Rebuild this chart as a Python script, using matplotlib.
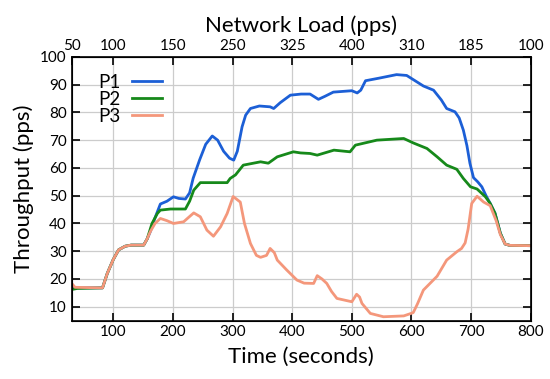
import numpy as np
import matplotlib
matplotlib.use("Agg")
import matplotlib.pyplot as plt

plt.rcParams['font.family'] = ['Lato', 'DejaVu Sans']

# ---- data ----
# shared start (all three flows identical up to ~157 s)
t_start = [30, 82, 90, 100, 109, 120, 130, 151, 157]
v_start = [16.8, 16.8, 22, 27, 30.5, 31.8, 32.2, 32.2, 34.5]

t_p1 = [162, 170, 179, 190, 201, 210, 221, 228, 234, 245, 255, 266, 275, 285,
        295, 302, 308, 316, 322, 330, 345, 363, 369, 380, 397, 415, 430, 444,
        455, 469, 500, 509, 515, 523, 545, 575, 592, 606, 620, 637, 650, 659,
        673, 680, 687, 693, 698, 704, 711, 718, 725, 732, 740, 749, 757, 765, 800]
v_p1 = [37, 42, 47, 48, 49.6, 49, 48.8, 51, 56.3, 63, 68.5, 71.5, 70, 66,
        63.5, 62.8, 66, 74.8, 79, 81.4, 82.3, 82, 81.4, 83.5, 86.2, 86.6, 86.6, 84.7,
        85.8, 87.3, 87.8, 87, 88, 91.4, 92.3, 93.6, 93.3, 91.4, 89.5, 88, 84.5, 81.4,
        80.2, 78, 73.6, 68, 61.7, 56.5, 55, 53.2, 50, 47.2, 43.7, 36.5, 32.6, 32.1, 32]

t_p2 = [165, 174, 179, 196, 221, 228, 235, 246, 291, 296, 305, 318, 347, 360,
        375, 402, 414, 430, 442, 470, 497, 506, 542, 587, 603, 626, 643, 659,
        676, 687, 699, 710, 724, 732, 740, 749, 757, 765, 800]
v_p2 = [40, 43.6, 44.8, 45.2, 45.2, 48, 52, 54.7, 54.7, 56.2, 57.5, 61, 62.2, 61.7,
        64, 65.8, 65.4, 65.2, 64.6, 66.4, 65.8, 68.2, 70, 70.6, 69, 67, 64, 61,
        59.5, 56.2, 53.2, 52.4, 49.6, 47.2, 43.7, 36.5, 32.6, 32.1, 32]

t_p3 = [162, 170, 179, 190, 201, 218, 228, 235, 246, 257, 268, 280, 291, 301,
        313, 320, 330, 340, 347, 357, 363, 370, 375, 391, 408, 420, 436, 442,
        450, 458, 466, 475, 500, 508, 513, 517, 531, 553, 587, 598, 603, 610,
        620, 643, 659, 676, 684, 690, 695, 701, 710, 721, 732, 742, 749, 757, 765, 800]
v_p3 = [37, 40, 41.8, 41, 40, 40.6, 42.5, 43.8, 42.4, 37.6, 35.4, 38.8, 43.6, 49.7,
        47.7, 40, 32.8, 28.5, 27.8, 28.5, 31, 29.5, 26.8, 23.2, 19.6, 18.5, 18.4, 21.2,
        20, 18.4, 15.5, 13, 11.8, 14.5, 13.5, 11.2, 7.6, 6.4, 6.7, 7.5, 7.9, 11,
        16, 21, 26.8, 29.8, 31, 33, 38, 47.2, 49.8, 47.7, 46.4, 41, 36, 32.6, 32.1, 32]

top_ticks = [30, 100, 200, 300, 400, 500, 600, 700, 800]
top_labels = ['50', '100', '150', '250', '325', '400', '310', '185', '100']

x1 = t_start + t_p1
y1 = v_start + v_p1
x2 = [30, 40] + t_start[1:] + t_p2
y2 = [16.2, 16.6] + v_start[1:] + v_p2
x3 = [30, 36] + t_start[1:] + t_p3
y3 = [18.5, 17.0] + v_start[1:] + v_p3

fig = plt.figure(figsize=(5.5, 3.79), dpi=100)
ax = fig.add_axes([0.130, 0.154, 0.835, 0.696])

ax.plot(x1, y1, color='#1c5fd6', lw=2.0, label='P1')
ax.plot(x2, y2, color='#16891a', lw=2.0, label='P2')
ax.plot(x3, y3, color='#f4977b', lw=2.0, label='P3')

ax.set_xlim(30, 800)
ax.set_ylim(5, 100)
ax.set_xticks(range(100, 801, 100))
ax.set_yticks(range(10, 101, 10))
ax.grid(True, color='#cccccc', lw=0.9)
ax.tick_params(direction='in', length=6, width=1.2, labelsize=11,
               right=True, top=False)
for s in ax.spines.values():
    s.set_linewidth(1.2)

ax2 = ax.twiny()
ax2.set_xlim(ax.get_xlim())
ax2.set_xticks(top_ticks)
ax2.set_xticklabels(top_labels)
ax2.tick_params(direction='in', length=6, width=1.2, labelsize=11, pad=3)
ax2.set_xlabel('Network Load (pps)', fontsize=16, labelpad=5)

ax.set_xlabel('Time (seconds)', fontsize=16, labelpad=5)
ax.set_ylabel('Throughput (pps)', fontsize=16, labelpad=4)

ax.legend(loc='upper left', bbox_to_anchor=(0.03, 0.985), frameon=False,
          markerfirst=False, fontsize=13.5, handlelength=1.6,
          labelspacing=0.0, handletextpad=0.6, borderpad=0.2)

fig.savefig('out.png', dpi=100)
